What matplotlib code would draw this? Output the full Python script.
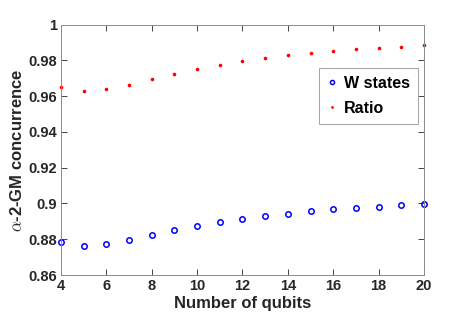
import matplotlib
matplotlib.use("Agg")
import matplotlib.pyplot as plt
from matplotlib.ticker import FuncFormatter

plt.rcParams.update({
    "font.family": ["Liberation Sans", "DejaVu Sans"],
    "font.weight": "bold",
    "mathtext.fontset": "cm",
})

qubits = list(range(4, 21))
w_states = [0.8786, 0.8760, 0.8773, 0.8795, 0.8822, 0.8851, 0.8876, 0.8896, 0.8915,
            0.8931, 0.8944, 0.8956, 0.8967, 0.8976, 0.8982, 0.8989, 0.8995]
ratio = [0.9654, 0.9630, 0.9639, 0.9665, 0.9695, 0.9724, 0.9751, 0.9777, 0.9797,
         0.9816, 0.9831, 0.9844, 0.9853, 0.9862, 0.9872, 0.9877, 0.9886]
x_ticks = list(range(4, 21, 2))
y_ticks = [0.86, 0.88, 0.90, 0.92, 0.94, 0.96, 0.98, 1.0]

axis_col = "#262626"

fig = plt.figure(figsize=(4.69, 3.27), dpi=100)
ax = fig.add_axes([0.130, 0.159, 0.774, 0.7655])

ax.plot(qubits, w_states, "o", ls="none", mfc="none", mec="#0000ff", ms=3.9, mew=1.1,
        label="W states", clip_on=False)
ax.plot(qubits, ratio, "o", ls="none", color="#ff0000", ms=2.6, mew=0,
        label="Ratio", clip_on=False)

ax.set_xlim(4, 20)
ax.set_ylim(0.86, 1.0)
ax.set_xticks(x_ticks)
ax.set_yticks(y_ticks)
ax.yaxis.set_major_formatter(FuncFormatter(lambda v, p: f"{v:g}"))

ax.tick_params(direction="in", top=True, right=True, length=4, width=0.6,
               labelsize=10.5, colors=axis_col, labelcolor=axis_col, pad=3)
for s in ax.spines.values():
    s.set_color("#8c8c8c")
    s.set_linewidth(0.7)

ax.set_xlabel("Number of qubits", fontsize=12, fontweight="bold", color=axis_col, labelpad=2)
ax.set_ylabel(r"$\alpha$-2-GM concurrence", fontsize=12, fontweight="bold",
              color=axis_col, labelpad=2)

leg = ax.legend(loc="upper right", bbox_to_anchor=(0.983, 0.827), borderaxespad=0,
                fontsize=11.5, frameon=True, fancybox=False, edgecolor="#8c8c8c",
                handlelength=0.6, handletextpad=0.45, borderpad=0.5,
                labelspacing=0.6, markerscale=0.75)
leg.get_frame().set_linewidth(0.7)
for t in leg.get_texts():
    t.set_fontweight("bold")

fig.savefig("out.png", dpi=100)
